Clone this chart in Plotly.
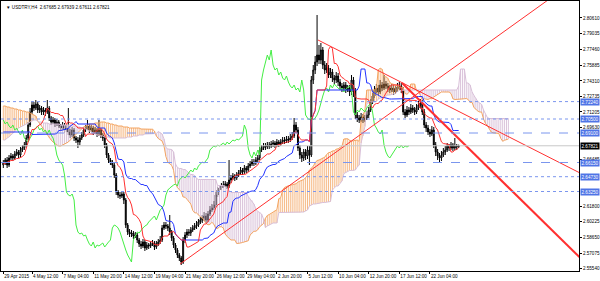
import numpy as np
import pandas as pd
import plotly.graph_objects as go

chart_title = "\u25BC USDTRY,H4  2.67685 2.67939 2.67611 2.67821"

first_open = 2.659
close = [2.661, 2.664, 2.659, 2.666, 2.668, 2.666, 2.670, 2.672, 2.669, 2.674, 2.676, 2.679,
         2.686, 2.699, 2.712, 2.719, 2.716, 2.720, 2.714, 2.716, 2.712, 2.714, 2.712, 2.716,
         2.706, 2.702, 2.704, 2.700, 2.702, 2.698, 2.696, 2.699, 2.694, 2.696, 2.692, 2.689,
         2.694, 2.686, 2.684, 2.682, 2.686, 2.689, 2.694, 2.696, 2.698, 2.694, 2.696, 2.692,
         2.694, 2.690, 2.694, 2.689, 2.686, 2.679, 2.669, 2.664, 2.662, 2.659, 2.649, 2.632,
         2.629, 2.628, 2.630, 2.624, 2.599, 2.592, 2.590, 2.591, 2.588, 2.589, 2.584, 2.580,
         2.578, 2.582, 2.576, 2.579, 2.578, 2.580, 2.581, 2.577, 2.580, 2.582, 2.584, 2.596,
         2.599, 2.598, 2.596, 2.592, 2.586, 2.579, 2.574, 2.569, 2.566, 2.562, 2.584, 2.589,
         2.592, 2.591, 2.594, 2.596, 2.598, 2.599, 2.602, 2.604, 2.606, 2.608, 2.604, 2.610,
         2.614, 2.616, 2.619, 2.629, 2.634, 2.636, 2.638, 2.639, 2.640, 2.638, 2.644, 2.646,
         2.648, 2.646, 2.649, 2.651, 2.654, 2.652, 2.656, 2.654, 2.658, 2.660, 2.662, 2.661,
         2.664, 2.666, 2.674, 2.676, 2.678, 2.677, 2.679, 2.678, 2.680, 2.681, 2.679, 2.682,
         2.680, 2.682, 2.684, 2.683, 2.685, 2.684, 2.686, 2.688, 2.699, 2.694, 2.676, 2.669,
         2.666, 2.672, 2.668, 2.674, 2.669, 2.744, 2.754, 2.762, 2.769, 2.764, 2.774, 2.759,
         2.754, 2.756, 2.749, 2.752, 2.746, 2.744, 2.748, 2.742, 2.738, 2.736, 2.739, 2.734,
         2.736, 2.732, 2.744, 2.734, 2.709, 2.706, 2.704, 2.707, 2.704, 2.706, 2.709, 2.714,
         2.722, 2.728, 2.734, 2.736, 2.732, 2.739, 2.736, 2.740, 2.738, 2.736, 2.734, 2.736,
         2.732, 2.735, 2.737, 2.738, 2.734, 2.712, 2.709, 2.714, 2.712, 2.716, 2.714, 2.712,
         2.716, 2.719, 2.721, 2.712, 2.699, 2.696, 2.692, 2.690, 2.694, 2.679, 2.672, 2.668,
         2.666, 2.669, 2.672, 2.674, 2.678, 2.676, 2.679, 2.676, 2.678, 2.677, 2.6782]

high = [2.664, 2.666, 2.667, 2.669, 2.671, 2.670, 2.673, 2.675, 2.674, 2.677, 2.679, 2.682,
        2.689, 2.702, 2.716, 2.723, 2.722, 2.724, 2.722, 2.719, 2.718, 2.717, 2.716, 2.724,
        2.718, 2.708, 2.707, 2.706, 2.705, 2.704, 2.700, 2.702, 2.701, 2.699, 2.716, 2.695,
        2.697, 2.696, 2.688, 2.687, 2.689, 2.692, 2.697, 2.699, 2.704, 2.700, 2.699, 2.698,
        2.697, 2.696, 2.704, 2.696, 2.691, 2.688, 2.681, 2.671, 2.666, 2.664, 2.661, 2.651,
        2.634, 2.632, 2.633, 2.632, 2.626, 2.601, 2.595, 2.594, 2.593, 2.592, 2.591, 2.586,
        2.583, 2.585, 2.584, 2.582, 2.581, 2.583, 2.584, 2.583, 2.583, 2.585, 2.588, 2.599,
        2.602, 2.602, 2.600, 2.609, 2.594, 2.588, 2.581, 2.576, 2.571, 2.568, 2.587, 2.592,
        2.595, 2.595, 2.597, 2.599, 2.601, 2.603, 2.605, 2.607, 2.609, 2.612, 2.611, 2.613,
        2.618, 2.620, 2.623, 2.632, 2.637, 2.639, 2.641, 2.643, 2.643, 2.642, 2.664, 2.649,
        2.651, 2.650, 2.652, 2.654, 2.657, 2.656, 2.659, 2.658, 2.661, 2.663, 2.665, 2.665,
        2.667, 2.669, 2.677, 2.679, 2.681, 2.681, 2.682, 2.682, 2.683, 2.684, 2.683, 2.685,
        2.684, 2.685, 2.687, 2.687, 2.688, 2.688, 2.690, 2.692, 2.706, 2.702, 2.697, 2.679,
        2.672, 2.675, 2.675, 2.678, 2.678, 2.748, 2.759, 2.768, 2.809, 2.779, 2.781, 2.777,
        2.763, 2.761, 2.759, 2.756, 2.755, 2.749, 2.752, 2.751, 2.745, 2.741, 2.742, 2.742,
        2.739, 2.739, 2.749, 2.747, 2.736, 2.712, 2.709, 2.711, 2.710, 2.709, 2.713, 2.717,
        2.725, 2.731, 2.738, 2.740, 2.739, 2.744, 2.742, 2.749, 2.743, 2.741, 2.739, 2.740,
        2.739, 2.738, 2.741, 2.742, 2.741, 2.737, 2.715, 2.718, 2.717, 2.720, 2.719, 2.717,
        2.720, 2.723, 2.725, 2.724, 2.715, 2.702, 2.699, 2.695, 2.698, 2.697, 2.682, 2.675,
        2.671, 2.673, 2.676, 2.678, 2.681, 2.680, 2.682, 2.681, 2.686, 2.680, 2.6794]

low = [2.656, 2.659, 2.656, 2.657, 2.664, 2.663, 2.664, 2.668, 2.666, 2.667, 2.672, 2.674,
       2.677, 2.684, 2.697, 2.710, 2.713, 2.714, 2.711, 2.711, 2.709, 2.709, 2.708, 2.710,
       2.703, 2.699, 2.700, 2.697, 2.698, 2.696, 2.693, 2.694, 2.691, 2.692, 2.689, 2.686,
       2.687, 2.683, 2.681, 2.676, 2.679, 2.684, 2.687, 2.692, 2.694, 2.691, 2.692, 2.689,
       2.690, 2.687, 2.688, 2.686, 2.683, 2.676, 2.666, 2.661, 2.659, 2.656, 2.646, 2.629,
       2.626, 2.625, 2.626, 2.620, 2.596, 2.589, 2.587, 2.587, 2.585, 2.586, 2.581, 2.577,
       2.575, 2.576, 2.573, 2.574, 2.575, 2.576, 2.578, 2.574, 2.575, 2.578, 2.580, 2.582,
       2.594, 2.595, 2.593, 2.589, 2.583, 2.576, 2.571, 2.566, 2.563, 2.559, 2.560, 2.581,
       2.586, 2.588, 2.588, 2.592, 2.594, 2.595, 2.597, 2.600, 2.601, 2.603, 2.601, 2.602,
       2.608, 2.612, 2.614, 2.617, 2.627, 2.632, 2.634, 2.636, 2.637, 2.635, 2.636, 2.641,
       2.644, 2.643, 2.644, 2.647, 2.649, 2.649, 2.650, 2.651, 2.652, 2.656, 2.658, 2.658,
       2.659, 2.662, 2.664, 2.672, 2.674, 2.674, 2.675, 2.675, 2.676, 2.677, 2.676, 2.677,
       2.677, 2.678, 2.680, 2.680, 2.681, 2.681, 2.682, 2.684, 2.686, 2.691, 2.673, 2.665,
       2.662, 2.663, 2.664, 2.665, 2.659, 2.667, 2.740, 2.750, 2.758, 2.760, 2.760, 2.755,
       2.750, 2.751, 2.746, 2.746, 2.742, 2.740, 2.741, 2.738, 2.735, 2.732, 2.733, 2.731,
       2.732, 2.728, 2.729, 2.727, 2.705, 2.702, 2.701, 2.702, 2.701, 2.702, 2.704, 2.706,
       2.712, 2.720, 2.726, 2.731, 2.729, 2.730, 2.733, 2.734, 2.735, 2.732, 2.731, 2.732,
       2.729, 2.730, 2.732, 2.734, 2.731, 2.709, 2.706, 2.707, 2.709, 2.710, 2.711, 2.709,
       2.710, 2.714, 2.716, 2.709, 2.696, 2.692, 2.689, 2.687, 2.688, 2.676, 2.668, 2.664,
       2.662, 2.663, 2.667, 2.669, 2.672, 2.673, 2.674, 2.673, 2.674, 2.674, 2.6761]

# Kumo spans for the first 78 bars (their source bars are off-screen)
cloud_a_early = [2.718, 2.718, 2.717, 2.717, 2.716, 2.716, 2.715, 2.715, 2.714, 2.714,
                 2.713, 2.713, 2.712, 2.712, 2.711, 2.710, 2.709, 2.708,
                 2.703, 2.701, 2.698, 2.695, 2.692, 2.689, 2.686, 2.684, 2.682, 2.680, 2.679,
                 2.678, 2.678, 2.679, 2.680, 2.681, 2.682,
                 2.684, 2.686, 2.688, 2.690, 2.692, 2.694, 2.696, 2.697, 2.698, 2.699, 2.700,
                 2.700, 2.700, 2.701, 2.701, 2.701, 2.702, 2.702, 2.702, 2.701, 2.701, 2.700,
                 2.700, 2.699, 2.699, 2.698, 2.698, 2.698, 2.697, 2.697, 2.697, 2.696, 2.696,
                 2.696, 2.696, 2.696, 2.696, 2.695, 2.695, 2.695, 2.695, 2.695, 2.695]
cloud_b_early = [2.684, 2.684, 2.686, 2.687, 2.689, 2.691, 2.693, 2.694, 2.696, 2.697,
                 2.698, 2.699, 2.700, 2.701, 2.702, 2.703, 2.704, 2.704,
                 2.703, 2.702, 2.702, 2.701, 2.701, 2.701, 2.700, 2.700, 2.700, 2.700, 2.700,
                 2.700, 2.699, 2.699, 2.699, 2.699, 2.699,
                 2.699, 2.698, 2.698, 2.698, 2.697, 2.697, 2.696, 2.696, 2.695, 2.694, 2.693,
                 2.692, 2.691, 2.690, 2.689, 2.689, 2.688, 2.688, 2.687, 2.687, 2.687, 2.686,
                 2.686, 2.686, 2.686, 2.686, 2.686, 2.686, 2.686, 2.686, 2.687, 2.687, 2.687,
                 2.688, 2.688, 2.688, 2.689, 2.689, 2.689, 2.690, 2.690, 2.690, 2.690]
kijun_early = [2.692, 2.692, 2.692, 2.692, 2.692, 2.692, 2.692, 2.692, 2.692, 2.692,
               2.692, 2.692, 2.692, 2.692, 2.692]

tick_bars = [0, 15, 31, 47, 63, 79, 95, 111, 127, 143, 159, 175, 191, 207, 223]
tick_labels = ["29 Apr 2015", "4 May 12:00", "7 May 04:00", "11 May 20:00", "14 May 12:00",
               "19 May 04:00", "21 May 20:00", "26 May 12:00", "29 May 04:00", "2 Jun 20:00",
               "5 Jun 12:00", "10 Jun 04:00", "12 Jun 20:00", "17 Jun 12:00", "22 Jun 04:00"]
price_ticks = [2.80610, 2.79035, 2.77460, 2.75885, 2.74310, 2.72735, 2.71205, 2.69630,
               2.66485, 2.61800, 2.60225, 2.58650, 2.57075, 2.55540]

level_prices = [2.72240, 2.70500, 2.69100, 2.66150, 2.64730, 2.63250]
level_dash = ["dot", "dot", "dash", "dash", "dot", "dot"]
current_price = 2.67821

trend_bar0 = [164.5, 92.4, 208.4]
trend_price0 = [2.784, 2.560, 2.741]
trend_bar1 = [300.4, 284.7, 300.0]
trend_price1 = [2.652, 2.824, 2.569]
trend_width = [1, 1, 2]

# ---------------------------------------------------------------------------
n = len(close)
idx = np.arange(n)
opens = [first_open] + close[:-1]
h = pd.Series(high)
l = pd.Series(low)
tenkan = (h.rolling(9, min_periods=1).max() + l.rolling(9, min_periods=1).min()) / 2
kijun = (h.rolling(26, min_periods=1).max() + l.rolling(26, min_periods=1).min()) / 2
kijun.iloc[:len(kijun_early)] = kijun_early
span_b_src = (h.rolling(52, min_periods=1).max() + l.rolling(52, min_periods=1).min()) / 2

N = n + 26
span_a = np.full(N, np.nan)
span_b = np.full(N, np.nan)
span_a[26:] = ((tenkan + kijun) / 2).values
span_b[26:] = span_b_src.values
span_a[:len(cloud_a_early)] = cloud_a_early
span_b[:len(cloud_b_early)] = cloud_b_early

ux, uy, dx, dy = [], [], [], []
for j in range(N):
    a, b = span_a[j], span_b[j]
    if np.isnan(a) or np.isnan(b):
        continue
    if a >= b:
        ux += [j, j, None]; uy += [a, b, None]
    else:
        dx += [j, j, None]; dy += [a, b, None]

fig = go.Figure()
fig.add_trace(go.Scatter(x=ux, y=uy, mode="lines", line=dict(color="#F4A460", width=1),
                         opacity=0.75, hoverinfo="skip"))
fig.add_trace(go.Scatter(x=dx, y=dy, mode="lines", line=dict(color="#D8BFD8", width=1),
                         opacity=0.9, hoverinfo="skip"))
fig.add_trace(go.Scatter(x=np.arange(N), y=span_a, mode="lines",
                         line=dict(color="#F4A460", width=1)))
fig.add_trace(go.Scatter(x=np.arange(N), y=span_b, mode="lines",
                         line=dict(color="#D8BFD8", width=1)))

# horizontal levels
for p, d in zip(level_prices, level_dash):
    fig.add_shape(type="line", xref="paper", x0=0, x1=1, y0=p, y1=p,
                  line=dict(color="#7b96ee", width=1, dash=d))
fig.add_shape(type="line", xref="paper", x0=0, x1=1, y0=current_price, y1=current_price,
              line=dict(color="#c8c8c8", width=1))

fig.add_trace(go.Scatter(x=idx[:n - 26], y=close[26:], mode="lines",
                         line=dict(color="#44ee44", width=1)))
fig.add_trace(go.Scatter(x=idx, y=kijun, mode="lines", line=dict(color="#2233ff", width=1)))
fig.add_trace(go.Scatter(x=idx, y=tenkan, mode="lines", line=dict(color="#ff3030", width=1)))

fig.add_trace(go.Candlestick(
    x=idx, open=opens, high=high, low=low, close=close,
    increasing=dict(line=dict(color="#000000", width=1), fillcolor="#ffffff"),
    decreasing=dict(line=dict(color="#000000", width=1), fillcolor="#000000"),
    whiskerwidth=0, hoverinfo="skip"))

# trend lines, extended to the right edge as rays
for b0, p0, b1, p1, w in zip(trend_bar0, trend_price0, trend_bar1, trend_price1, trend_width):
    slope = (p1 - p0) / (b1 - b0)
    bx = 310
    fig.add_trace(go.Scatter(x=[b0, bx], y=[p0, p0 + slope * (bx - b0)], mode="lines",
                             line=dict(color="#ff3030", width=w)))

fam = "Liberation Sans, Arial, sans-serif"
font_small = dict(family=fam, size=4.6, color="#000000")

# highlighted price labels
for p in level_prices:
    fig.add_annotation(xref="paper", x=1, y=p, yref="y", xanchor="left", yanchor="middle",
                       xshift=1, text="%.5f" % p, showarrow=False, bgcolor="#4f74e6",
                       font=dict(family=fam, size=4.6, color="white"), borderpad=0.5)
fig.add_annotation(xref="paper", x=1, y=current_price, yref="y", xanchor="left",
                   yanchor="middle", xshift=1, text="%.5f" % current_price, showarrow=False,
                   bgcolor="#000000", font=dict(family=fam, size=4.6, color="white"),
                   borderpad=0.5)
fig.add_annotation(xref="paper", yref="paper", x=0, y=1, xanchor="left", yanchor="top",
                   xshift=3, yshift=-2, text=chart_title, showarrow=False, font=font_small)

fig.update_layout(
    width=600, height=281, showlegend=False,
    margin=dict(l=1, r=21, t=1, b=10),
    paper_bgcolor="white", plot_bgcolor="white",
    xaxis=dict(range=[-1.2, 300.9], tickvals=tick_bars, ticktext=tick_labels, tickangle=0,
               automargin=False,
               ticks="outside", ticklen=2, tickcolor="#000", showgrid=False, zeroline=False,
               showline=True, linecolor="#000", linewidth=1, mirror=True,
               ticklabelposition="outside right", tickfont=font_small,
               rangeslider=dict(visible=False)),
    yaxis=dict(range=[2.553, 2.823], side="right", tickvals=price_ticks, automargin=False,
               ticktext=["%.5f" % v for v in price_ticks], ticks="outside", ticklen=2,
               tickcolor="#000", showgrid=False, zeroline=False, showline=True,
               linecolor="#000", linewidth=1, mirror=True, tickfont=font_small),
)

fig.write_html("out.html")
